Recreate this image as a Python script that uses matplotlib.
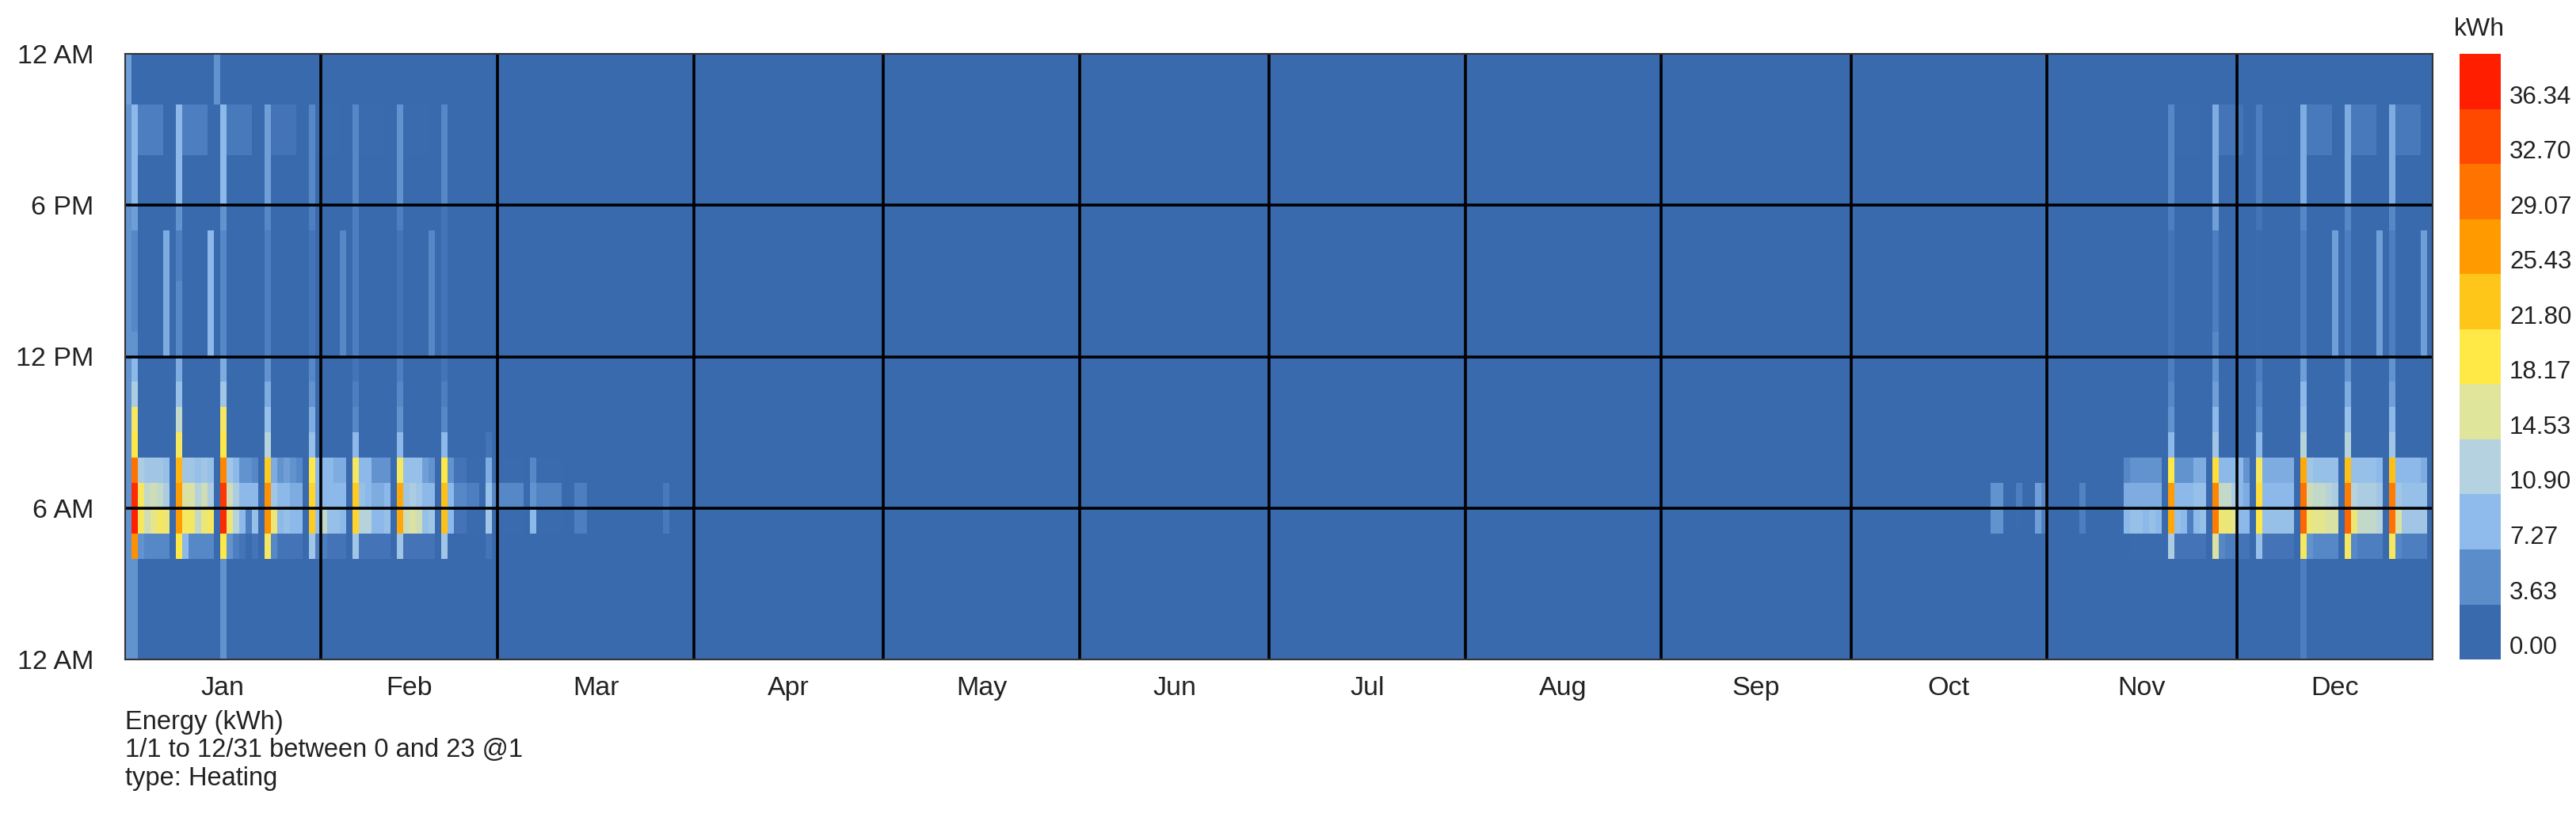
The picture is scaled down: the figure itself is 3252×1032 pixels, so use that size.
import numpy as np
import matplotlib
matplotlib.use("Agg")
import matplotlib.pyplot as plt
from matplotlib.colors import LinearSegmentedColormap, ListedColormap, Normalize, BoundaryNorm

plt.rcParams['font.family'] = ['Liberation Sans', 'DejaVu Sans']

# axis labels
months = ["Jan", "Feb", "Mar", "Apr", "May", "Jun", "Jul", "Aug", "Sep", "Oct", "Nov", "Dec"]
month_days = [31, 28, 31, 30, 31, 30, 31, 31, 30, 31, 30, 31]
hour_ticks = [0, 6, 12, 18, 24]
hour_labels = ["12 AM", "6 AM", "12 PM", "6 PM", "12 AM"]

# legend bins (kWh)
cbar_levels = [0.00, 3.63, 7.27, 10.90, 14.53, 18.17, 21.80, 25.43, 29.07, 32.70, 36.34]
cbar_colors = ["#3a6aae", "#5b8dcb", "#8fbbec", "#b4d2df", "#dfe59b", "#ffe946",
               "#ffc61a", "#ff9a00", "#ff7300", "#ff4800", "#ff1f00"]

# Mondays (day of year, 0 = Jan 1) with the morning start-up
mon_days = [1, 8, 15, 22, 29, 36, 43, 50, 57, 64, 71, 85,
            295, 302, 309, 316, 323, 330, 337, 344, 351, 358]
# kWh for hours 4..11
mon_am = [
    [28, 38, 37, 31, 20, 19, 12, 9],
    [20, 27, 27, 25, 19, 14, 10, 8],
    [20, 37, 36, 29, 20, 19, 11, 8],
    [19, 28, 28, 23, 13, 10, 8, 6],
    [11, 23, 22, 20, 10, 8, 6, 5],
    [11, 22, 23, 19, 9, 5, 4, 3],
    [11, 26, 26, 19, 9, 6, 5, 4],
    [11, 24, 24, 20, 9, 5, 4, 3],
    [3, 11, 10, 8, 3, 0, 0, 0],
    [0, 9, 6, 5, 0, 0, 0, 0],
    [0, 4, 4, 0, 0, 0, 0, 0],
    [0, 3.5, 3.5, 0, 0, 0, 0, 0],
    [0, 6, 6, 0, 0, 0, 0, 0],
    [0, 7, 7, 0, 0, 0, 0, 0],
    [0, 4, 4.5, 0, 0, 0, 0, 0],
    [0, 9, 8, 5, 0, 0, 0, 0],
    [12, 26, 27, 20, 9, 6, 5, 4],
    [16, 30, 29, 21, 11, 9, 7, 6],
    [10, 20, 21, 19, 9, 6, 5, 4],
    [19, 32, 31, 26, 13, 10, 9, 7],
    [19, 32, 30, 24, 13, 10, 8, 6],
    [19, 31, 30, 24, 11, 9, 7, 6],
]
# kWh for hours 12..16
mon_mid = [
    [6, 5, 5, 5, 5], [5, 5, 5, 4, 4], [5, 5, 5, 5, 5], [4, 4, 4, 4, 4],
    [3, 3, 3, 3, 3], [4, 4, 4, 4, 4], [3, 3, 3, 3, 3], [3, 3, 3, 3, 3],
    [0, 0, 0, 0, 0], [0, 0, 0, 0, 0], [0, 0, 0, 0, 0], [0, 0, 0, 0, 0],
    [0, 0, 0, 0, 0], [0, 0, 0, 0, 0], [0, 0, 0, 0, 0], [0, 0, 0, 0, 0],
    [3, 3, 3, 3, 3], [5, 4, 4, 4, 4], [2, 2, 2, 2, 2], [4, 4, 4, 4, 4],
    [4, 4, 4, 4, 4], [4, 4, 4, 4, 4],
]
# kWh for hours 17..21
mon_pm = [
    [7, 9, 9, 9, 9], [6, 9, 9, 9, 9], [6, 9, 9, 9, 9], [5, 7, 7, 7, 7],
    [4, 5, 5, 5, 5], [4, 5, 5, 5, 5], [4, 6, 6, 6, 6], [3, 5, 5, 5, 5],
    [0, 0, 0, 0, 0], [0, 0, 0, 0, 0], [0, 0, 0, 0, 0], [0, 0, 0, 0, 0],
    [0, 0, 0, 0, 0], [0, 0, 0, 0, 0], [0, 0, 0, 0, 0], [0, 0, 0, 0, 0],
    [4, 5, 5, 5, 5], [7, 8, 8, 8, 8], [3, 4, 4, 4, 4], [5, 8, 8, 8, 8],
    [5, 8, 8, 8, 8], [5, 8, 8, 8, 8],
]

# Tue..Sat following a Monday, kWh for hours 4..7
wk_start = [1, 8, 15, 22, 29, 36, 43, 50, 57, 64, 316, 323, 330, 337, 344, 351, 358]
wk_am = [
    [[6, 19, 19, 12], [5, 15, 14, 11], [5, 17, 15, 11], [5, 19, 14, 11], [5, 18, 12, 10]],
    [[9, 19, 16, 11], [5, 19, 16, 11], [5, 14, 13, 10], [5, 18, 15, 11], [5, 19, 12, 10]],
    [[6, 18, 15, 11], [4, 13, 12, 9], [3, 9, 9, 6], [2, 4, 9, 6], [3, 10, 9, 5]],
    [[5, 18, 11, 8], [3, 9, 9, 6], [3, 10, 9, 7], [3, 9, 8, 6], [3, 9, 8, 5]],
    [[4, 10, 9, 9], [4, 14, 9, 9], [3, 10, 9, 9], [3, 10, 9, 8], [3, 9, 9, 8]],
    [[3, 13, 10, 9], [3, 13, 9, 9], [3, 9, 8, 6], [3, 9, 8, 6], [3, 10, 9, 6]],
    [[3, 15, 11, 10], [3, 16, 12, 10], [3, 15, 11, 10], [3, 10, 9, 7], [3, 11, 9, 6]],
    [[0, 9, 9, 6], [0, 3, 5, 3], [0, 3, 5, 3], [0, 2, 4, 2], [0, 2, 4, 2]],
    [[0, 2, 5, 2], [0, 2, 5, 2], [0, 2, 5, 2], [0, 2, 5, 2], [0, 2, 5, 2]],
    [[0, 2, 4.5, 2], [0, 2, 4.5, 2], [0, 2, 4.5, 2], [0, 2, 4.5, 2], [0, 0, 0, 0]],
    [[2, 10, 8, 6], [2, 10, 8, 6], [2, 9, 8, 6], [2, 10, 8, 6], [2, 9, 8, 6]],
    [[3, 10, 9, 6], [3, 9, 9, 6], [3, 4, 9, 6], [3, 9, 10, 8], [3, 10, 10, 8]],
    [[5, 18, 14, 9], [4, 18, 14, 9], [4, 17, 12, 9], [3, 9, 9, 9], [3, 9, 8, 6]],
    [[3, 10, 9, 8], [3, 10, 9, 8], [3, 10, 9, 8], [3, 10, 9, 8], [3, 10, 9, 8]],
    [[6, 18, 15, 11], [5, 17, 14, 10], [5, 17, 14, 10], [5, 16, 13, 10], [5, 16, 12, 10]],
    [[5, 18, 13, 10], [4, 14, 12, 10], [4, 14, 12, 10], [4, 14, 12, 10], [4, 13, 11, 9]],
    [[5, 16, 11, 9], [4, 11, 10, 9], [4, 11, 10, 9], [4, 11, 10, 9], [4, 11, 10, 8]],
]
# Tue..Fri evening level, hours 20..21
wk_pm = [4, 4, 3.5, 3, 2, 2, 2, 0, 0, 0, 0, 2, 3, 2, 3.5, 3.5, 3.5]

# scattered single days, kWh for hours 4..7
extra_days = [72, 296, 299, 303]
extra_am = [[0, 4, 4, 0], [0, 6, 6, 0], [0, 2, 4, 0], [0, 4, 5, 0]]

# Saturday afternoons, hours 12..16
sat_days = [6, 13, 34, 48, 349, 356, 363]
sat_mid = [8, 9, 5, 5, 7, 7, 7]

# night hours 0..3
night_days = [0, 1, 15, 344]
night_val = [6, 6, 6, 4]

# late evening hours 22..23
late_days = [0, 14]
late_val = [7, 6]

# Jan 1: all day
allday_days = [0]
allday_val = [6]

heat = np.zeros((24, 365))
for d, v in zip(allday_days, allday_val):
    heat[:, d] = v
for i, d in enumerate(mon_days):
    heat[4:12, d] = mon_am[i]
    heat[12:17, d] = mon_mid[i]
    heat[17:22, d] = mon_pm[i]
for w, d0 in enumerate(wk_start):
    for j in range(5):
        heat[4:8, d0 + 1 + j] = wk_am[w][j]
    heat[20:22, d0 + 1:d0 + 5] = wk_pm[w]
for d, v in zip(extra_days, extra_am):
    heat[4:8, d] = v
for d, v in zip(sat_days, sat_mid):
    heat[12:17, d] = v
for d, v in zip(night_days, night_val):
    heat[0:4, d] = v
for d, v in zip(late_days, late_val):
    heat[22:24, d] = v

# continuous map through the legend colours (anchored at bin centres)
cmap = LinearSegmentedColormap.from_list("heat", cbar_colors)
norm = Normalize(vmin=1.8, vmax=38.2, clip=True)

W, H = 3252, 1032
fig = plt.figure(figsize=(W / 100, H / 100), dpi=100)
x0, x1, y0, y1 = 157.5, 3071, 68, 833
ax = fig.add_axes([x0 / W, 1 - y1 / H, (x1 - x0) / W, (y1 - y0) / H])
ax.imshow(heat, origin="lower", extent=[0, 365, 0, 24], aspect="auto",
          cmap=cmap, norm=norm, interpolation="nearest")

bounds = np.cumsum(month_days)
ax.vlines(bounds[:-1], 0, 24, color="black", lw=2.6)
ax.hlines([6, 12, 18], 0, 365, color="black", lw=2.6)
ax.set_xlim(0, 365)
ax.set_ylim(0, 24)

centers = bounds - np.array(month_days) / 2
ax.set_xticks(centers)
ax.set_xticklabels(months, fontsize=24.5, color="#222222")
ax.set_yticks(hour_ticks)
ax.set_yticklabels(hour_labels, fontsize=24.5, color="#222222")
ax.tick_params(length=0)
ax.tick_params(axis="x", pad=15)
ax.tick_params(axis="y", pad=28)
for s in ax.spines.values():
    s.set_color("#333333")
    s.set_linewidth(1.5)

# colour legend
cx0, cx1 = 3105, 3157
cax = fig.add_axes([cx0 / W, 1 - y1 / H, (cx1 - cx0) / W, (y1 - y0) / H])
edges = cbar_levels + [cbar_levels[-1] + 3.634]
cax.pcolormesh([0, 1], edges, np.arange(11).reshape(11, 1),
               cmap=ListedColormap(cbar_colors), norm=BoundaryNorm(np.arange(12) - 0.5, 11))
cax.set_xlim(0, 1)
cax.set_ylim(edges[0], edges[-1])
cax.set_xticks([])
cax.yaxis.tick_right()
cax.set_yticks(cbar_levels)
cax.set_yticklabels(["%.2f" % v for v in cbar_levels], fontsize=22.5, color="#222222")
for lab in cax.get_yticklabels():
    lab.set_va("bottom")
cax.tick_params(length=0, pad=8)
for s in cax.spines.values():
    s.set_visible(False)
fig.text(3130 / W, 1 - 37 / H, "kWh", ha="center", va="center", fontsize=23, color="#222222")

fig.text(x0 / W, 1 - 897 / H,
         "Energy (kWh)\n1/1 to 12/31 between 0 and 23 @1\ntype: Heating",
         ha="left", va="top", fontsize=23.5, color="#222222", linespacing=1.18)

fig.savefig("out.png", dpi=100)
